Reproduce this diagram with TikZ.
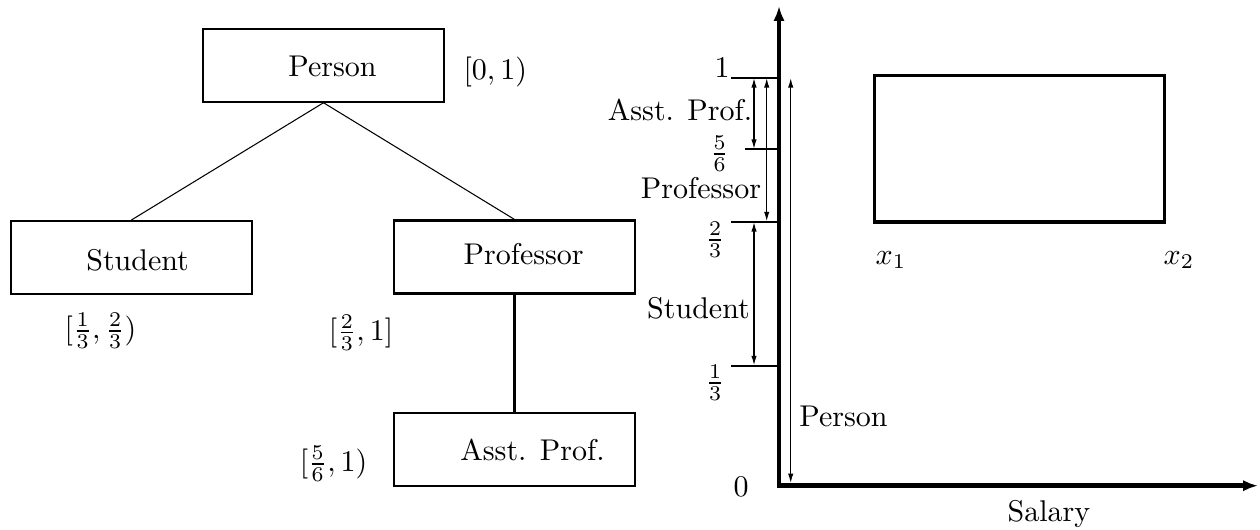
\documentclass[tikz,border=0pt]{standalone}
\usetikzlibrary{arrows.meta}
\begin{document}
\begin{tikzpicture}[x=0.33333pt,y=-0.33333pt,
  cls/.style={draw,line width=0.7pt,minimum width=80.33pt,minimum height=24.33pt,inner sep=0pt},
  txt/.style={anchor=base,inner sep=0pt},
  lbl/.style={inner sep=0pt},
  tree/.style={line width=0.35pt},
  treev/.style={line width=0.8pt},
  axis/.style={line width=1.5pt,{Latex[length=5pt,width=3.8pt]}-{Latex[length=5pt,width=3.8pt]}},
  tickline/.style={line width=0.7pt},
  dim/.style={line width=0.5pt,{Latex[length=3.3pt,width=1.8pt]}-{Latex[length=3.3pt,width=1.8pt]}},
  regionbox/.style={draw,line width=1.1pt,minimum width=96.67pt,minimum height=48.77pt,inner sep=0pt},
]
\useasboundingbox (0,0) rectangle (1260,529);

% ---------- tree ----------
\node[cls] (person) at (323.5,65.2) {};
\node[cls] (student) at (131.5,257.5) {};
\node[cls] (professor) at (514.5,257) {};
\node[cls] (asst) at (514.5,449.5) {};

\node[txt] (tperson) at (332.5,76.7) {Person};
\node[txt] (tstudent) at (137.6,270.7) {Student};
\node[txt] (tprofessor) at (523.7,265) {Professor};
\node[txt] (tasst) at (532.5,460) {Asst. Prof.};

\draw[tree] (person.south) -- (student.north);
\draw[tree] (person.south) -- (professor.north);
\draw[treev] (professor.south) -- (asst.north);

\node[txt,anchor=base west] (iperson) at (463,80) {$[0,1)$};
\node[lbl] (istudent) at (100.5,331) {$[\frac{1}{3},\frac{2}{3})$};
\node[lbl] (iprofessor) at (361,332.5) {$[\frac{2}{3},1]$};
\node[lbl] (iasst) at (333.5,464) {$[\frac{5}{6},1)$};

% ---------- axes ----------
\coordinate (O) at (779,485.7);
\coordinate (ytop) at (779,6);
\coordinate (xend) at (1258,485.7);
\draw[axis] (ytop) -- (O) -- (xend);

\coordinate (t1a) at (731,77.7);   \coordinate (t1b) at (779,77.7);
\coordinate (t56a) at (745,149.3); \coordinate (t56b) at (779,149.3);
\coordinate (t23a) at (731,221.7); \coordinate (t23b) at (779,221.7);
\coordinate (t13a) at (731,365.7); \coordinate (t13b) at (779,365.7);
\draw[tickline] (t1a) -- (t1b);
\draw[tickline] (t56a) -- (t56b);
\draw[tickline] (t23a) -- (t23b);
\draw[tickline] (t13a) -- (t13b);

\coordinate (da1) at (754,77.7);   \coordinate (da2) at (754,149.3);
\coordinate (dp1) at (766.7,77.7); \coordinate (dp2) at (766.7,221.7);
\coordinate (ds1) at (754,221.7);  \coordinate (ds2) at (754,365.7);
\coordinate (dq1) at (790.7,77.7); \coordinate (dq2) at (790.7,483.5);
\draw[dim] (da1) -- (da2);
\draw[dim] (dp1) -- (dp2);
\draw[dim] (ds1) -- (ds2);
\draw[dim] (dq1) -- (dq2);

\node[txt] (l1) at (722,78) {$1$};
\node[lbl] (l56) at (719.5,154) {$\frac{5}{6}$};
\node[lbl] (l23) at (715,240) {$\frac{2}{3}$};
\node[lbl] (l13) at (715,383) {$\frac{1}{3}$};
\node[txt] (l0) at (741,496) {$0$};

\node[txt] (aasst) at (680,121) {Asst. Prof.};
\node[txt] (aprof) at (701,199) {Professor};
\node[txt] (astud) at (698.5,318) {Student};
\node[txt] (apers) at (843.5,426) {Person};
\node[txt] (salary) at (1049,521.7) {Salary};

\node[regionbox] (region) at (1019.3,148.85) {};
\node[txt,anchor=base west] (x1) at (875,264) {$x_1$};
\node[txt,anchor=base west] (x2) at (1163,264) {$x_2$};
\end{tikzpicture}
\end{document}
